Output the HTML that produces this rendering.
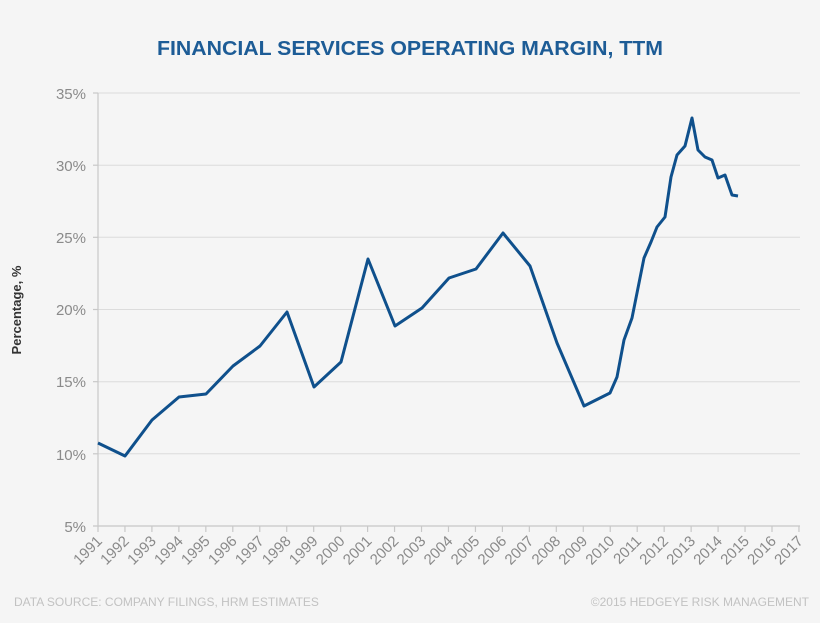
<!DOCTYPE html>
<html><head><meta charset="utf-8"><style>
html,body{margin:0;padding:0;background:#f5f5f5;}
svg{display:block;}
text{font-family:"Liberation Sans",Arial,sans-serif;}
</style></head><body>
<svg width="820" height="623" viewBox="0 0 820 623" xmlns="http://www.w3.org/2000/svg">
<rect width="820" height="623" fill="#f5f5f5"/>
<text x="410" y="55" text-anchor="middle" font-size="20" font-weight="bold" fill="#1d5c96" textLength="506" lengthAdjust="spacingAndGlyphs">FINANCIAL SERVICES OPERATING MARGIN, TTM</text>
<g stroke="#dcdcdc" stroke-width="1">
<line x1="98" y1="93" x2="800" y2="93"/>
<line x1="98" y1="165.2" x2="800" y2="165.2"/>
<line x1="98" y1="237.3" x2="800" y2="237.3"/>
<line x1="98" y1="309.5" x2="800" y2="309.5"/>
<line x1="98" y1="381.7" x2="800" y2="381.7"/>
<line x1="98" y1="453.8" x2="800" y2="453.8"/>
</g>
<g stroke="#c8c8c8" stroke-width="1.2">
<line x1="98" y1="93" x2="98" y2="526"/>
<line x1="93" y1="526" x2="800" y2="526"/>
<line x1="93" y1="93" x2="98" y2="93"/><line x1="93" y1="165.2" x2="98" y2="165.2"/>
<line x1="93" y1="237.3" x2="98" y2="237.3"/><line x1="93" y1="309.5" x2="98" y2="309.5"/>
<line x1="93" y1="381.7" x2="98" y2="381.7"/><line x1="93" y1="453.8" x2="98" y2="453.8"/>
</g>
<g font-size="15" fill="#8a8a8a" text-anchor="end">
<text x="86" y="99">35%</text><text x="86" y="171">30%</text><text x="86" y="243">25%</text>
<text x="86" y="315">20%</text><text x="86" y="387">15%</text><text x="86" y="460">10%</text>
<text x="86" y="532">5%</text>
</g>
<text transform="translate(21,310) rotate(-90)" text-anchor="middle" font-size="13" font-weight="bold" fill="#333">Percentage, %</text>
<g id="xt" stroke="#c8c8c8" stroke-width="1.2"></g>
<g id="xl" font-size="15" fill="#8a8a8a"></g>
<polyline fill="none" stroke="#0f508c" stroke-width="3" stroke-linejoin="round" points="98,443 125,456 152,420 179,397 206,394 233,366 260,346 287,312 314,387 341,362 368,259 395,326 422,308 449,278 476,269 503,233 530,266 557,343 584,406 610,393 617,377 624,340 632,318 637,293 644,258 651,242 657,227 665,217 671,177 677,155 685,146 692,118 698,150 705,157 712,160 718,178 725,175 732,195 738,196"/>
<text x="14" y="606" font-size="12" fill="#c2c2c2">DATA SOURCE: COMPANY FILINGS, HRM ESTIMATES</text>
<text x="809" y="606" text-anchor="end" font-size="12" fill="#c2c2c2">©2015 HEDGEYE RISK MANAGEMENT</text>
<script>
var t=document.getElementById('xt'),l=document.getElementById('xl'),ns='http://www.w3.org/2000/svg';
for(var i=0;i<=26;i++){var x=98+i*26.96;
var ln=document.createElementNS(ns,'line');ln.setAttribute('x1',x);ln.setAttribute('x2',x);ln.setAttribute('y1',526);ln.setAttribute('y2',532);t.appendChild(ln);
var tx=document.createElementNS(ns,'text');tx.setAttribute('text-anchor','end');tx.setAttribute('transform','translate('+(x+5)+',542) rotate(-45)');tx.textContent=1991+i;l.appendChild(tx);}
</script>
</svg>
</body></html>
